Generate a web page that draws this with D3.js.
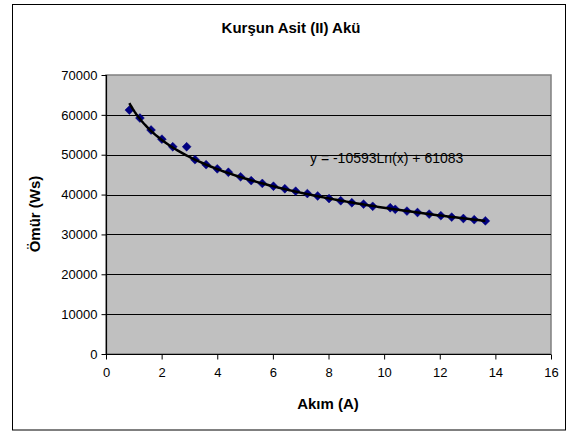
<!DOCTYPE html>
<html><head><meta charset="utf-8">
<script src="https://cdn.jsdelivr.net/npm/d3@7"></script>
<style>html,body{margin:0;padding:0;background:#fff;}svg{display:block;font-family:"Liberation Sans",Arial,sans-serif;}</style>
</head><body>
<svg id="c" width="572" height="432"></svg>
<script>
const title = "Kurşun Asit (II) Akü";
const xTitle = "Akım (A)";
const yTitle = "Ömür (Ws)";
const equation = "y = -10593Ln(x) + 61083";
const trendA = -10593, trendB = 61083;
const currents = [0.84,1.22,1.62,2.01,2.4,2.9,3.2,3.6,4.0,4.4,4.84,5.22,5.62,6.02,6.43,6.82,7.24,7.61,8.02,8.44,8.84,9.26,9.59,10.22,10.4,10.82,11.2,11.62,12.04,12.43,12.85,13.24,13.64];
const lifetimes = [61200,59200,56200,53900,52000,52000,48750,47500,46450,45600,44450,43500,42800,42100,41450,40850,40250,39650,39000,38450,37950,37600,37050,36700,36300,35850,35500,35100,34700,34350,34000,33700,33400];
const xTicks = [0,2,4,6,8,10,12,14,16];
const yTicks = [0,10000,20000,30000,40000,50000,60000,70000];

const svg = d3.select("#c");
const L=106, R=551, T=75, B=354;
const x = d3.scaleLinear().domain([0,16]).range([L,R]);
const y = d3.scaleLinear().domain([0,70000]).range([B,T]);

// chart border
svg.append("rect").attr("x",12.5).attr("y",4.5).attr("width",553).attr("height",425.5)
  .attr("fill","#fff").attr("stroke","#000").attr("stroke-width",1);

// plot area
svg.append("rect").attr("x",L).attr("y",T).attr("width",R-L).attr("height",B-T)
  .attr("fill","#C0C0C0").attr("stroke","#808080").attr("stroke-width",1.5);

// gridlines
svg.append("g").selectAll("line").data(yTicks.filter(d=>d>0 && d<70000)).join("line")
  .attr("x1",L).attr("x2",R).attr("y1",d=>Math.round(y(d))+0.5).attr("y2",d=>Math.round(y(d))+0.5)
  .attr("stroke","#000").attr("stroke-width",1);

// axes
const yAxis = d3.axisLeft(y).tickValues(yTicks).tickSize(5).tickPadding(4).tickFormat(d3.format("d"));
const gy = svg.append("g").attr("transform",`translate(${L+0.5},0)`).call(yAxis);
const xAxis = d3.axisBottom(x).tickValues(xTicks).tickSize(5).tickPadding(8).tickFormat(d3.format("d"));
const gx = svg.append("g").attr("transform",`translate(0,${B+0.5})`).call(xAxis);
[gx,gy].forEach(g=>{
  g.select(".domain").attr("stroke","#000").attr("stroke-width",1.2);
  g.selectAll(".tick line").attr("stroke","#000");
  g.selectAll(".tick text").attr("font-size",13).attr("fill","#000").attr("font-family","Liberation Sans, Arial, sans-serif");
});
gx.select(".domain").attr("d",`M${L},0H${R}`);
gy.select(".domain").attr("d",`M0,${T}V${B}`);

// markers
const data = currents.map((c,i)=>({c, v:lifetimes[i]}));
svg.append("g").selectAll("path").data(data).join("path")
  .attr("transform",d=>`translate(${x(d.c)},${y(d.v)})`)
  .attr("d",d3.symbol(d3.symbolDiamond2, 50))
  .attr("fill","#000080").attr("stroke","#000080").attr("stroke-width",0.5);

// trendline (over markers)
const xs = d3.range(0, 201).map(i => currents[0] + (currents[currents.length-1]-currents[0])*i/200);
svg.append("path").datum(xs)
  .attr("d", d3.line().x(d=>x(d)).y(d=>y(trendA*Math.log(d)+trendB)))
  .attr("fill","none").attr("stroke","#000").attr("stroke-width",2.5);

// texts
svg.append("text").attr("x",291).attr("y",33).attr("text-anchor","middle")
  .attr("font-size",15).attr("font-weight","bold").text(title);
svg.append("text").attr("x",328).attr("y",409).attr("text-anchor","middle")
  .attr("font-size",15).attr("font-weight","bold").text(xTitle);
svg.append("text").attr("transform","translate(40,214) rotate(-90)").attr("text-anchor","middle")
  .attr("font-size",15).attr("font-weight","bold").text(yTitle);
svg.append("text").attr("x",310).attr("y",163).attr("font-size",14).text(equation);
</script>
</body></html>
